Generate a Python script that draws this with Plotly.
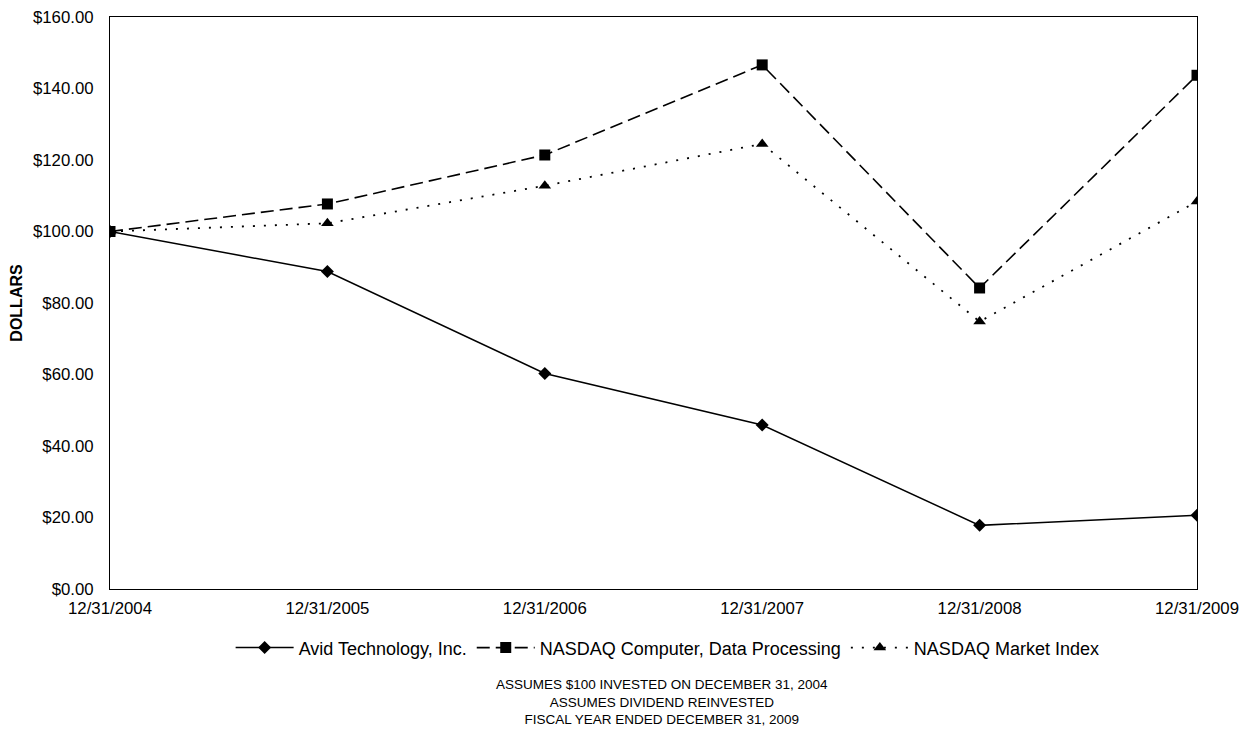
import plotly.graph_objects as go

dates = ["12/31/2004", "12/31/2005", "12/31/2006", "12/31/2007", "12/31/2008", "12/31/2009"]
avid = [100.0, 88.8, 60.3, 45.9, 17.8, 20.6]
nasdaq_comp = [100.0, 107.7, 121.4, 146.6, 84.2, 143.7]
nasdaq_mkt = [100.0, 102.3, 112.8, 124.5, 74.8, 108.4]
y_ticks = [0, 20, 40, 60, 80, 100, 120, 140, 160]
y_ticklabels = ["$%.2f" % v for v in y_ticks]

xpos = list(range(len(dates)))
font_family = "Liberation Sans, Arial, sans-serif"

fig = go.Figure()
fig.add_trace(go.Scatter(
    x=xpos, y=avid, name="Avid Technology, Inc.", mode="lines+markers",
    line=dict(color="black", width=1.5, dash="solid"),
    marker=dict(symbol="diamond", size=10, color="black")))
fig.add_trace(go.Scatter(
    x=xpos, y=nasdaq_comp, name="NASDAQ Computer, Data Processing", mode="lines+markers",
    line=dict(color="black", width=1.6, dash="13px,6px"),
    marker=dict(symbol="square", size=11, color="black")))
fig.add_trace(go.Scatter(
    x=xpos, y=nasdaq_mkt, name="NASDAQ Market Index", mode="lines+markers",
    line=dict(color="black", width=1.8, dash="2px,9px"),
    marker=dict(symbol="triangle-up", size=11, color="black")))

fig.update_layout(
    width=1243, height=722,
    margin=dict(l=102, r=54, t=9, b=141, autoexpand=False),
    paper_bgcolor="white", plot_bgcolor="white",
    font=dict(family=font_family, size=16, color="black"),
    showlegend=True,
    legend=dict(orientation="h", x=0.513, xanchor="center", y=-0.103, yanchor="middle",
                font=dict(size=18, family=font_family), itemwidth=58,
                tracegroupgap=0),
    xaxis=dict(range=[0, 5], tickmode="array", tickvals=xpos, ticktext=dates,
               showgrid=False, zeroline=False, showline=True, linecolor="black",
               linewidth=1, mirror=True, ticks="", ticklabelstandoff=4,
               automargin=False, ticklabeloverflow="allow", tickfont=dict(size=16.8)),
    yaxis=dict(range=[0, 160], tickmode="array", tickvals=y_ticks, ticktext=y_ticklabels,
               showgrid=False, zeroline=False, showline=True, linecolor="black",
               linewidth=1, mirror=True, ticks="", ticklabelstandoff=12,
               automargin=False, ticklabeloverflow="allow", tickfont=dict(size=16.8),
               title=dict(text="<b>DOLLARS</b>", font=dict(size=16), standoff=14)),
    annotations=[
        dict(text="ASSUMES &#36;100 INVESTED ON DECEMBER 31, 2004<br>ASSUMES DIVIDEND REINVESTED<br>FISCAL YEAR ENDED DECEMBER 31, 2009",
             x=0.508, xref="paper", y=-0.150, yref="paper", yanchor="top", xanchor="center",
             showarrow=False, align="center",
             font=dict(size=13.5, family=font_family)),
    ],
)

fig.write_html("out.html")
